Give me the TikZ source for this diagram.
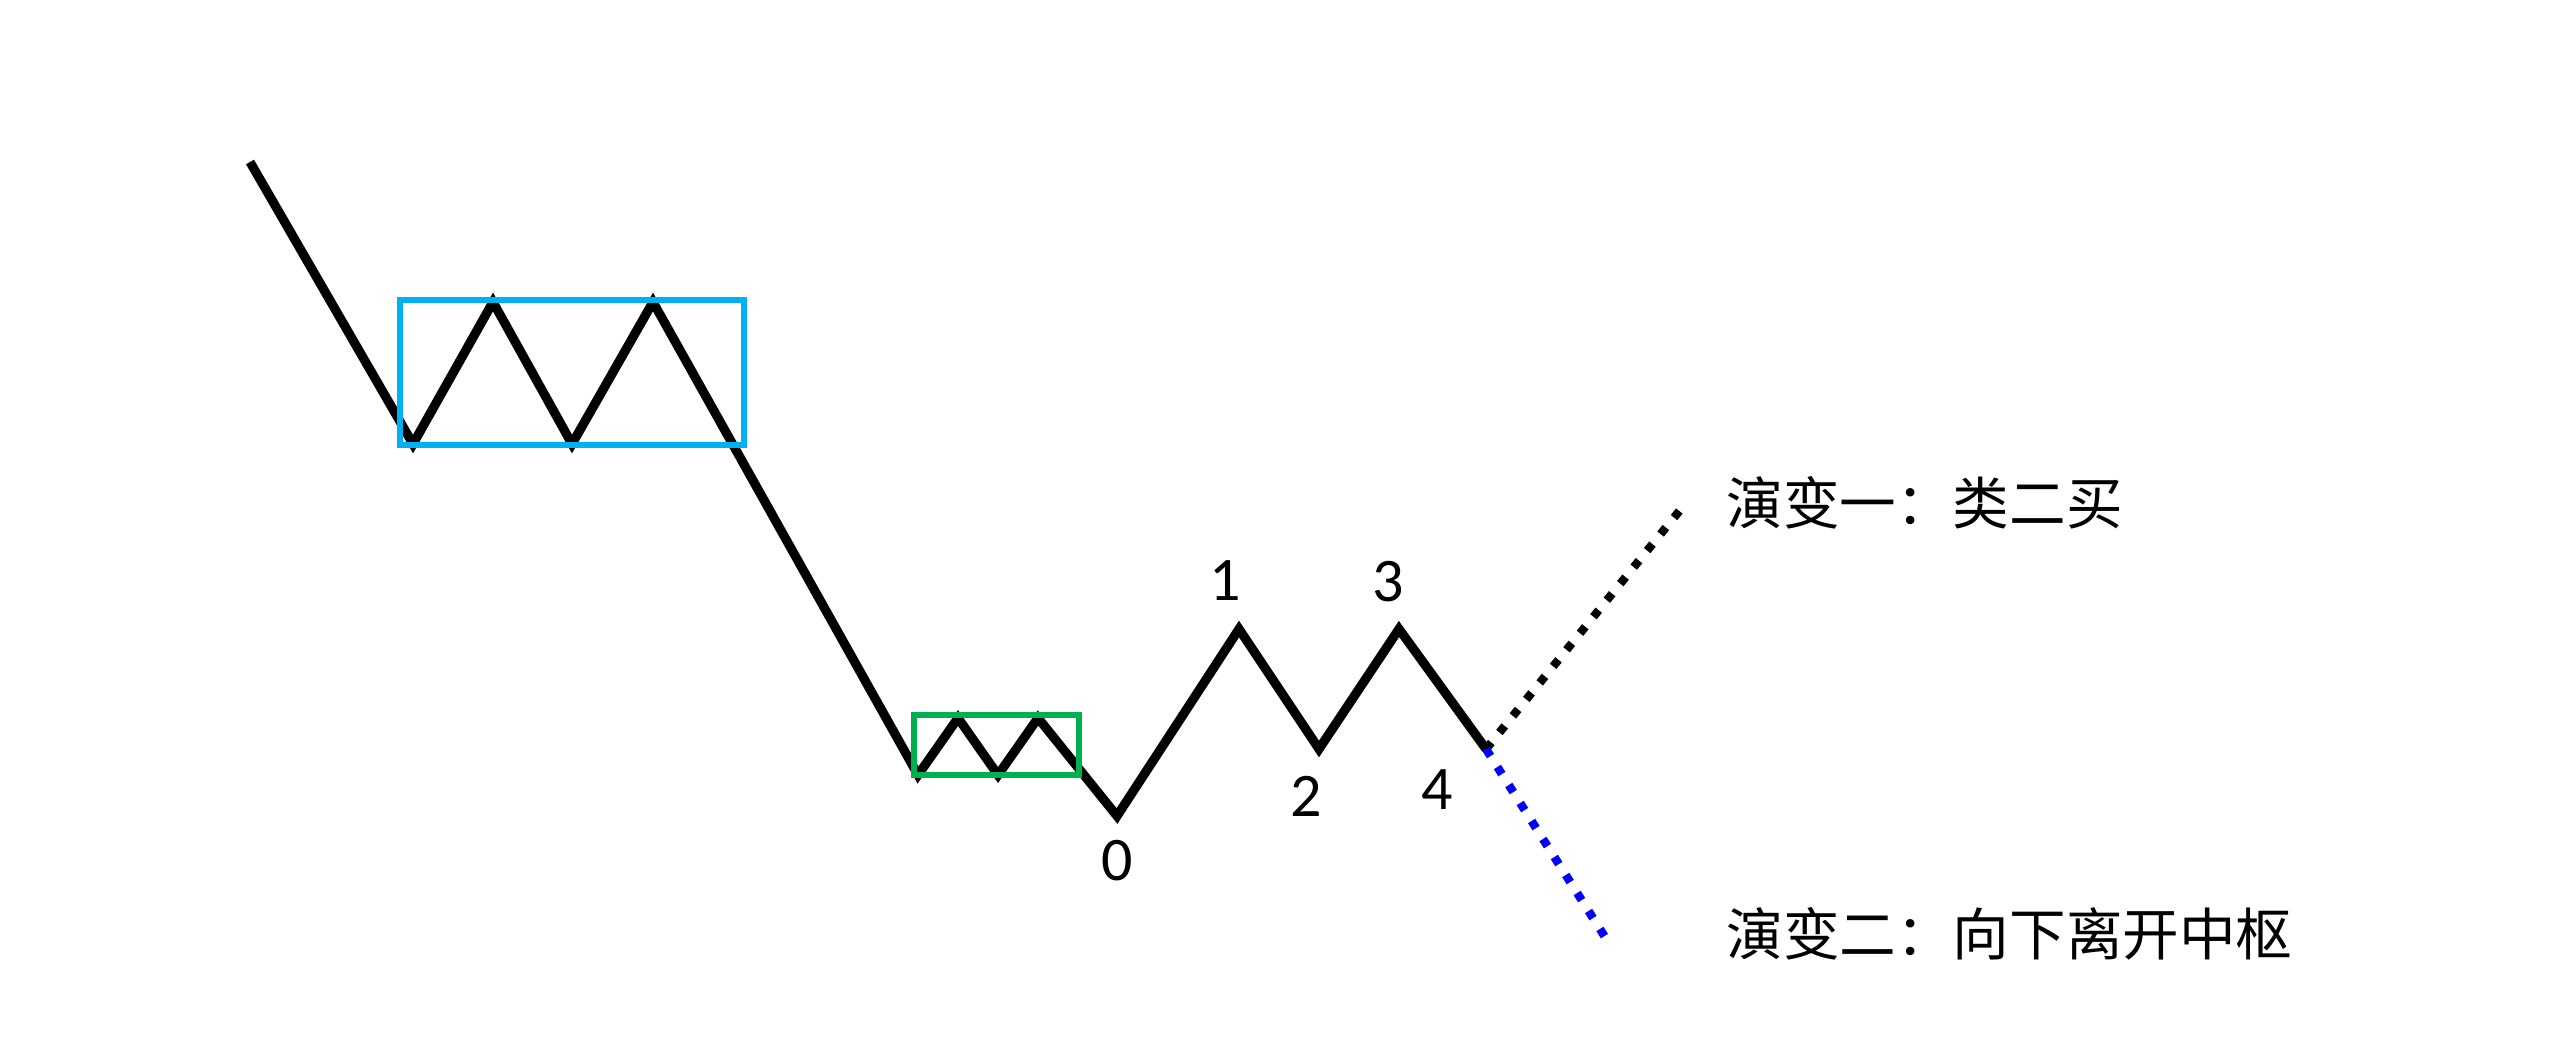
\documentclass[tikz,border=0pt]{standalone}
\usepackage{fontspec}
\setmainfont{Carlito}
\newfontfamily\cjk{Noto Sans CJK SC}
\definecolor{boxblue}{RGB}{0,176,240}
\definecolor{boxgreen}{RGB}{0,176,80}
\definecolor{dotblue}{RGB}{0,0,255}
\begin{document}
\begin{tikzpicture}[x=0.5pt,y=-0.5pt,
  trend/.style={line width=4.6pt, draw=black},
  zbox/.style={line width=2.8pt},
  dotline/.style={line width=4.2pt, dash pattern=on 4.2pt off 6.45pt},
  num/.style={font=\fontsize{31}{33}\selectfont, inner sep=0pt},
  lbl/.style={font=\cjk\fontsize{28.3}{30}\selectfont, anchor=west, inner sep=0pt}]
\useasboundingbox (0,0) rectangle (2560,1045);
% path points
\coordinate (p0) at (250,162);
\coordinate (p1) at (413,444);
\coordinate (p2) at (493,302);
\coordinate (p3) at (572,444);
\coordinate (p4) at (653,302);
\coordinate (p5) at (918,775);
\coordinate (p6) at (958,718);
\coordinate (p7) at (998,775);
\coordinate (p8) at (1038,718);
\coordinate (p9) at (1117,816);
\coordinate (p10) at (1239,629);
\coordinate (p11) at (1319,749);
\coordinate (p12) at (1399,629);
\coordinate (p13) at (1486,749);
\coordinate (upend) at (1685,504);
\coordinate (downend) at (1605,937);
% main trend line
\draw[trend] (p0) -- (p1) -- (p2) -- (p3) -- (p4) -- (p5) -- (p6) -- (p7) -- (p8)
  -- (p9) -- (p10) -- (p11) -- (p12) -- (p13);
% pivot boxes
\draw[zbox, boxblue] (400,300) rectangle (744,445);
\draw[zbox, boxgreen] (914,715) rectangle (1079,775);
% variations
\draw[dotline, black] (p13) -- (upend);
\draw[dotline, dotblue] (p13) -- (downend);
% numbers
\node[num] (n0) at (1117,861) {0};
\node[num] (n1) at (1225,581) {1};
\node[num] (n2) at (1306,796) {2};
\node[num] (n3) at (1388,582) {3};
\node[num] (n4) at (1437,790) {4};
% labels
\node[lbl] (v1) at (1726,503) {演变一：类二买};
\node[lbl] (v2) at (1726,934) {演变二：向下离开中枢};
\end{tikzpicture}
\end{document}
